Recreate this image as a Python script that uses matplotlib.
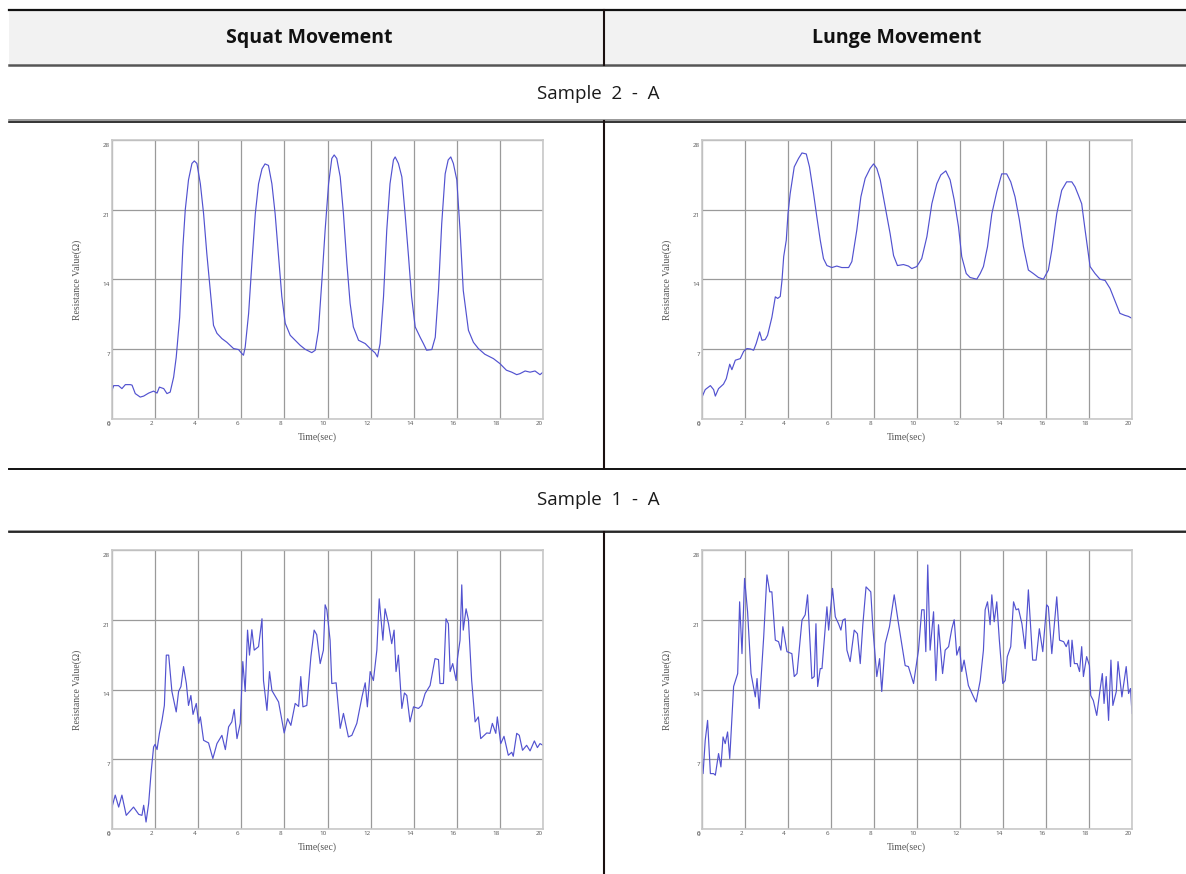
import matplotlib
matplotlib.use("Agg")
import matplotlib.pyplot as plt
from matplotlib.transforms import ScaledTranslation

plt.rcParams['font.family'] = ['Open Sans', 'Noto Sans CJK KR', 'DejaVu Sans']

W, H = 1186, 874

col_titles = ["Squat Movement", "Lunge Movement"]
row_titles = ["Sample 2 - A", "Sample 1 - A"]
x_ticks = [0, 2, 4, 6, 8, 10, 12, 14, 16, 18, 20]
y_ticks = [0, 7, 14, 21, 28]

# Sample 2 - A, squat
squat_s2_t = [0, 0.08, 0.3, 0.46, 0.62, 0.85, 0.93, 1.08, 1.31, 1.47, 1.7, 1.93, 2.09, 2.2, 2.4, 2.55,
              2.7, 2.86, 2.98, 3.14, 3.29, 3.4, 3.55, 3.71, 3.82, 3.94, 4.1, 4.25, 4.4, 4.56, 4.71, 4.87,
              5.1, 5.33, 5.64, 5.87, 6.03, 6.1, 6.18, 6.34, 6.49, 6.65, 6.8, 6.96, 7.1, 7.26, 7.42, 7.57,
              7.73, 7.88, 8.04, 8.27, 8.5, 8.73, 8.96, 9.27, 9.43, 9.58, 9.74, 9.89, 10.05, 10.2, 10.31,
              10.43, 10.59, 10.74, 10.9, 11.05, 11.2, 11.44, 11.75, 11.98, 12.21, 12.32, 12.44, 12.6,
              12.75, 12.9, 13.06, 13.14, 13.29, 13.45, 13.6, 13.76, 13.9, 14.07, 14.3, 14.45, 14.6, 14.84,
              15.0, 15.15, 15.3, 15.46, 15.6, 15.72, 15.84, 16.0, 16.15, 16.3, 16.54, 16.77, 17.0, 17.3,
              17.7, 18.0, 18.3, 18.55, 18.78, 18.93, 19.17, 19.4, 19.63, 19.86, 20.0]
squat_s2_r = [2.9, 3.35, 3.35, 3.05, 3.45, 3.45, 3.4, 2.55, 2.2, 2.3, 2.6, 2.8, 2.6, 3.2, 3.05, 2.55,
              2.7, 4.2, 6.2, 10.2, 17.3, 21.0, 24.0, 25.65, 25.9, 25.65, 23.6, 20.6, 16.6, 12.9, 9.4, 8.6,
              8.07, 7.7, 7.07, 6.97, 6.56, 6.4, 7.2, 10.6, 15.6, 20.6, 23.6, 25.1, 25.6, 25.45, 23.6, 20.6,
              16.3, 12.3, 9.6, 8.4, 7.9, 7.4, 7.0, 6.66, 6.9, 8.9, 13.9, 18.95, 23.6, 26.15, 26.5,
              26.15, 24.3, 20.6, 15.6, 11.6, 9.24, 7.9, 7.57, 7.07, 6.63, 6.23, 7.57, 12.3,
              18.95, 23.6, 26.0, 26.3, 25.65, 24.3, 20.6, 16.3, 12.3, 9.24, 8.2, 7.57, 6.9, 6.97,
              8.2, 12.9, 19.6, 24.6, 26.0, 26.3, 25.65, 24.0, 18.95, 12.9, 8.9, 7.7, 7.07, 6.5,
              6.06, 5.56, 4.9, 4.7, 4.45, 4.55, 4.82, 4.7, 4.82, 4.45, 4.7]

# Sample 2 - A, lunge
lunge_s2_t = [0, 0.15, 0.39, 0.54, 0.62, 0.77, 1.0, 1.13, 1.29, 1.39, 1.55, 1.78, 1.94, 2.09, 2.25, 2.4,
              2.52, 2.68, 2.79, 2.94, 3.05, 3.25, 3.41, 3.52, 3.64, 3.72, 3.8, 3.92, 4.0, 4.1, 4.29, 4.49,
              4.65, 4.85, 5.0, 5.19, 5.34, 5.5, 5.65, 5.81, 6.04, 6.27, 6.5, 6.82, 6.97, 7.2, 7.39, 7.59,
              7.82, 7.98, 8.13, 8.29, 8.52, 8.75, 8.91, 9.09, 9.37, 9.6, 9.76, 9.99, 10.22, 10.46, 10.69,
              10.92, 11.11, 11.34, 11.54, 11.73, 11.93, 12.08, 12.29, 12.47, 12.78, 12.94, 13.09, 13.28,
              13.48, 13.71, 13.94, 14.17, 14.36, 14.56, 14.76, 14.95, 15.18, 15.41, 15.65, 15.88, 16.11,
              16.27, 16.5, 16.73, 16.96, 17.2, 17.35, 17.5, 17.66, 17.82, 18.05, 18.28, 18.51, 18.75,
              18.98, 19.2, 19.44, 19.67, 19.83, 20.0]
lunge_s2_r = [2.2, 2.95, 3.35, 2.95, 2.3, 3.05, 3.5, 4.05, 5.5, 4.95, 5.9, 6.06, 6.8, 7.07, 7.03, 6.9,
              7.57, 8.74, 7.9, 7.97, 8.4, 10.2, 12.26, 12.1, 12.3, 13.9, 16.3, 17.95, 20.6, 22.6, 25.3, 26.15,
              26.7, 26.6, 25.3, 22.6, 20.3, 17.95, 16.1, 15.4, 15.2, 15.35, 15.2, 15.2, 15.8, 18.95, 22.3, 24.15,
              25.15, 25.6, 25.15, 24.0, 21.3, 18.6, 16.4, 15.4, 15.5, 15.35, 15.1, 15.3, 16.1, 18.3, 21.6,
              23.6, 24.5, 24.9, 24.0, 22.0, 19.3, 16.3, 14.6, 14.2, 14.03, 14.6, 15.3, 17.3,
              20.6, 22.8, 24.6, 24.6, 23.8, 22.3, 20.0, 17.3, 14.95, 14.6, 14.2, 14.03, 14.95,
              16.95, 20.6, 22.95, 23.8, 23.8, 23.3, 22.5, 21.6, 18.95, 15.3, 14.6, 14.03, 13.9,
              13.1, 11.9, 10.6, 10.4, 10.3, 10.1]

# Sample 1 - A, squat
squat_s1_t = [0, 0.15, 0.31, 0.46, 0.66, 1.0, 1.24, 1.39, 1.47, 1.58, 1.7, 1.81, 1.93, 2.0, 2.09, 2.2,
              2.32, 2.43, 2.52, 2.63, 2.78, 2.98, 3.09, 3.2, 3.32, 3.45, 3.55, 3.66, 3.76, 3.91, 4.02, 4.1,
              4.25, 4.48, 4.68, 4.87, 5.1, 5.26, 5.41, 5.56, 5.67, 5.8, 5.95, 6.07, 6.18, 6.29, 6.38, 6.49,
              6.6, 6.8, 6.96, 7.03, 7.19, 7.31, 7.42, 7.73, 7.99, 8.15, 8.3, 8.5, 8.66, 8.76, 8.86, 9.04,
              9.23, 9.38, 9.5, 9.66, 9.81, 9.89, 9.97, 10.12, 10.2, 10.4, 10.59, 10.74, 10.97, 11.13,
              11.36, 11.6, 11.75, 11.85, 11.98, 12.13, 12.29, 12.4, 12.57, 12.67, 12.83, 12.98, 13.09,
              13.18, 13.29, 13.45, 13.57, 13.68, 13.83, 13.99, 14.22, 14.37, 14.53, 14.76, 14.99, 15.15,
              15.22, 15.38, 15.5, 15.61, 15.69, 15.81, 15.97, 16.03, 16.15, 16.23, 16.3, 16.43, 16.54,
              16.69, 16.85, 17.0, 17.11, 17.39, 17.54, 17.65, 17.81, 17.88, 18.04, 18.19, 18.39, 18.55,
              18.62, 18.78, 18.9, 19.05, 19.24, 19.4, 19.6, 19.74, 19.86, 20.0]
squat_s1_r = [2.2, 3.4, 2.2, 3.4, 1.37, 2.2, 1.47, 1.37, 2.38, 0.7, 2.55, 5.56, 8.24, 8.5, 7.97, 9.6,
              10.9, 12.4, 17.45, 17.45, 13.8, 11.75, 13.8, 14.3, 16.3, 14.6, 12.4, 13.4, 11.5, 12.6, 10.6, 11.25,
              8.9, 8.64, 7.07, 8.57, 9.4, 7.97, 10.25, 10.75, 12.0, 9.07, 10.6, 16.8, 13.8, 19.96, 17.45, 20.0,
              17.95, 18.3, 21.1, 14.9, 11.9, 15.8, 13.9, 12.75, 9.64, 11.07, 10.4, 12.6, 12.3, 15.3, 12.26, 12.4,
              17.3, 19.96, 19.5, 16.6, 17.95, 22.5, 22.0, 18.95, 14.6, 14.67, 10.1, 11.6, 9.24, 9.4,
              10.6, 13.26, 14.67, 12.26, 15.8, 14.9, 17.95, 23.1, 18.95, 22.1, 20.6, 18.6, 19.96,
              15.8, 17.45, 12.1, 13.65, 13.4, 10.75, 12.26, 12.1, 12.4, 13.6, 14.4, 17.1, 17.0,
              14.6, 14.6, 21.1, 20.6, 15.8, 16.6, 14.9, 17.1, 18.95, 24.5, 19.96, 22.1, 21.0,
              14.9, 10.75, 11.25, 9.07, 9.64, 9.6, 10.6, 9.6, 11.25, 8.57, 9.3, 7.4, 7.7,
              7.3, 9.6, 9.4, 7.9, 8.4, 7.84, 8.84, 8.17, 8.57, 8.4]

# Sample 1 - A, lunge
lunge_s1_t = [0, 0.05, 0.15, 0.26, 0.39, 0.54, 0.62, 0.77, 0.88, 0.98, 1.08, 1.19, 1.29, 1.47, 1.66, 1.75,
              1.86, 1.98, 2.12, 2.28, 2.48, 2.56, 2.66, 2.87, 3.02, 3.15, 3.25, 3.41, 3.56, 3.67, 3.76, 3.95,
              4.18, 4.29, 4.42, 4.65, 4.8, 4.91, 5.11, 5.22, 5.3, 5.38, 5.5, 5.58, 5.81, 5.89, 6.07, 6.2,
              6.35, 6.46, 6.55, 6.66, 6.74, 6.89, 7.08, 7.23, 7.36, 7.48, 7.63, 7.85, 7.95, 8.13, 8.26, 8.36,
              8.52, 8.72, 8.94, 9.14, 9.45, 9.6, 9.84, 10.07, 10.22, 10.33, 10.41, 10.5, 10.61, 10.77, 10.88,
              11.0, 11.19, 11.31, 11.47, 11.62, 11.73, 11.85, 11.98, 12.08, 12.19, 12.39, 12.63, 12.75,
              12.94, 13.09, 13.17, 13.28, 13.4, 13.48, 13.59, 13.71, 13.83, 13.99, 14.1, 14.2, 14.36,
              14.49, 14.61, 14.72, 14.88, 15.03, 15.18, 15.38, 15.54, 15.69, 15.85, 16.03, 16.11, 16.27,
              16.5, 16.63, 16.82, 16.94, 17.05, 17.14, 17.21, 17.32, 17.45, 17.56, 17.66, 17.74, 17.89,
              18.02, 18.08, 18.2, 18.36, 18.51, 18.62, 18.7, 18.8, 18.91, 19.02, 19.11, 19.27, 19.35,
              19.53, 19.73, 19.84, 19.93, 20.0]
lunge_s1_r = [6.9, 5.56, 8.9, 10.9, 5.56, 5.56, 5.4, 7.57, 6.23, 9.24, 8.57, 9.74, 7.07, 14.3, 15.6, 22.8,
              17.6, 25.15, 21.8, 15.6, 13.26, 15.1, 12.1, 19.3, 25.5, 23.8, 23.8, 18.95, 18.8, 17.95, 20.3, 17.8,
              17.6, 15.3, 15.6, 20.96, 21.5, 23.5, 15.1, 15.3, 20.6, 14.3, 16.1, 16.1, 22.3, 19.96, 24.15, 21.3,
              20.6, 19.96, 20.96, 21.1, 17.95, 16.8, 19.96, 19.6, 16.6, 20.5, 24.3, 23.8, 20.1, 15.3, 17.1, 13.8,
              18.6, 20.3, 23.5, 20.6, 16.4, 16.3, 14.6, 17.95, 22.0, 22.0, 17.8, 26.5, 17.95, 21.8, 14.9,
              20.5, 15.6, 17.95, 18.3, 20.1, 21.0, 17.45, 18.3, 15.8, 16.95, 14.4, 13.26, 12.75,
              14.9, 17.95, 22.0, 22.8, 20.5, 23.5, 20.8, 22.8, 18.95, 14.6, 14.9, 17.3, 18.3,
              22.8, 22.0, 22.1, 20.6, 18.1, 24.0, 16.95, 16.95, 20.1, 17.8, 22.5, 22.3, 17.6,
              23.3, 18.95, 18.8, 18.3, 18.95, 16.3, 18.95, 16.6, 16.6, 15.8, 18.3, 15.3, 17.3,
              16.4, 13.4, 12.9, 11.4, 13.9, 15.6, 12.6, 15.3, 10.9, 16.95, 12.4, 13.8, 16.8,
              13.26, 16.3, 13.6, 14.1, 11.6]

panels = [
    ((112, 140, 543, 419), squat_s2_t, squat_s2_r),
    ((702, 140, 1132, 419), lunge_s2_t, lunge_s2_r),
    ((112, 550, 543, 829), squat_s1_t, squat_s1_r),
    ((702, 550, 1132, 829), lunge_s1_t, lunge_s1_r),
]

fig = plt.figure(figsize=(W / 100, H / 100), dpi=100)

# table drawn in pixel coordinates
bg = fig.add_axes([0, 0, 1, 1])
bg.set_xlim(0, W)
bg.set_ylim(H, 0)
bg.axis("off")
bg.fill_between([9, W], 10, 64, color="#f2f2f2", lw=0)
bg.plot([9, W], [10, 10], color="#111111", lw=1.6)
bg.plot([9, W], [65, 65], color="#555555", lw=1.8)
bg.plot([9, W], [120, 120], color="#888888", lw=1.2)
bg.plot([9, W], [121.5, 121.5], color="#111111", lw=1.2)
bg.plot([9, W], [468.5, 468.5], color="#111111", lw=1.4)
bg.plot([9, W], [530.5, 530.5], color="#888888", lw=1.2)
bg.plot([9, W], [532, 532], color="#111111", lw=1.2)
for y0, y1 in [(10, 65), (121, 468), (532, H)]:
    bg.plot([604, 604], [y0, y1], color="#1a1010", lw=1.5)

for cx, title in zip([309, 897], col_titles):
    bg.text(cx, 38, title, ha="center", va="center", fontsize=14, fontweight="bold", color="#111111")
for cy, title in zip([94, 500], row_titles):
    bg.text(598, cy, title.replace(" ", "  "), ha="center", va="center", fontsize=13.5,
            color="#1a1a1a")


def draw_panel(box, t, r):
    x0, y0, x1, y1 = box
    ax = fig.add_axes([x0 / W, 1 - y1 / H, (x1 - x0) / W, (y1 - y0) / H])
    ax.plot(t, r, color="#5252d0", lw=0.85)
    ax.set_xlim(0, 20)
    ax.set_ylim(0, 28)
    ax.set_xticks(x_ticks)
    ax.set_yticks(y_ticks)
    ax.grid(True, color="#9a9a9a", lw=0.9)
    ax.tick_params(length=0, labelsize=4.5, labelcolor="#555555", pad=1.5)
    for s in ax.spines.values():
        s.set_color("#c8c8c8")
        s.set_linewidth(1.2)
    dx = ScaledTranslation(-4 / 100, 0, fig.dpi_scale_trans)
    for lab in ax.get_xticklabels():
        lab.set_transform(lab.get_transform() + dx)
    dy = ScaledTranslation(0, -5 / 100, fig.dpi_scale_trans)
    for lab in ax.get_yticklabels():
        lab.set_transform(lab.get_transform() + dy)
    ax.text(0.476, -18 / (y1 - y0), "Time(sec)", transform=ax.transAxes, ha="center", va="center",
            fontsize=7, family="Liberation Serif", color="#555555")
    ax.text(-35 / (x1 - x0), 0.5, "Resistance Value(\u03a9)", transform=ax.transAxes, rotation=90,
            ha="center", va="center", fontsize=7, family="Liberation Serif", color="#555555")


for box, t, r in panels:
    draw_panel(box, t, r)

fig.savefig("out.png", dpi=100)
